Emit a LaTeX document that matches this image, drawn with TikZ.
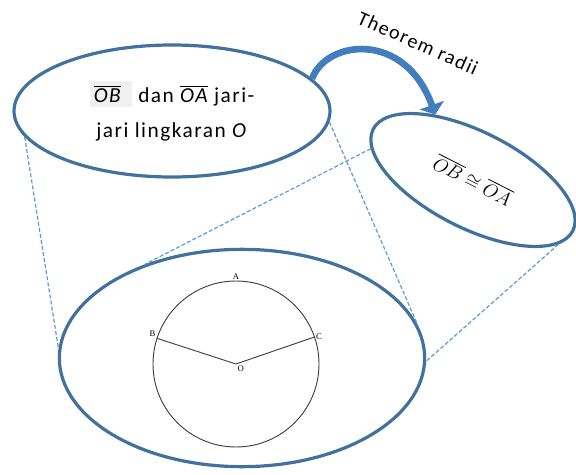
\documentclass[tikz,border=0pt]{standalone}
\usepackage{fontspec}
\setmainfont{Carlito}
\newfontfamily\bubblefont[LetterSpace=7]{Carlito}
\newfontfamily\figfont{Liberation Serif}
\usepackage{amssymb}
\usepackage{amsmath}
\usetikzlibrary{arrows.meta,shapes.geometric}
\definecolor{rimblue}{RGB}{65,113,156}
\definecolor{dashblue}{RGB}{91,155,213}
\definecolor{arrowblue}{RGB}{66,126,190}
\definecolor{boxgray}{RGB}{240,240,240}

\begin{document}
\begin{tikzpicture}[x=0.75pt,y=-0.75pt,
  bubble/.style={ellipse,draw=rimblue,line width=2.4pt,inner sep=0pt},
  guide/.style={draw=dashblue,line width=0.9pt,dash pattern=on 3pt off 1.6pt},
  ptlabel/.style={font=\figfont\fontsize{6.5}{7}\selectfont,inner sep=1pt}]
\useasboundingbox (0,0) rectangle (576,475);
\node[bubble,minimum width=237pt,minimum height=99pt,align=center,
  font=\bubblefont\fontsize{16}{26}\selectfont] (claim) at (172,111)
  {\colorbox{boxgray}{$\overline{\textit{OB}}$\,\,} dan $\overline{\textit{OA}}$ jari-\\jari lingkaran \textit{O}};
\node[bubble,rotate=-27,minimum width=168pt,minimum height=72pt,
  font=\fontsize{15.5}{18}\selectfont] (result) at (473,180) {$\overline{OB}\cong\overline{OA}$};
\node[bubble,minimum width=274pt,minimum height=163pt] (figure) at (242,358) {};
\node[font=\bubblefont\fontsize{15}{18}\selectfont,rotate=-24] (rule) at (418,43) {Theorem radii};

\draw[guide] (claim.190) -- (figure.177);
\draw[guide] (claim.-4) -- (figure.11);
\draw[guide] (result.190) -- (figure.136);
\draw[guide] (result.-10) -- (figure.-1);

\draw[arrowblue,line width=5pt,-{Triangle[length=7.5pt,width=19pt]}]
  (claim.13) .. controls (326,40) and (405,30) .. (result.147);

\node[circle,draw=black!75,line width=0.7pt,minimum size=124.5pt,inner sep=0pt,outer sep=0pt] (rim) at (236,364) {};
\coordinate (O) at (rim.center);
\draw[black!75,line width=0.7pt] (rim.162) -- (O) -- (rim.19);
\node[ptlabel,anchor=south] (lblA) at (rim.north) {A};
\node[ptlabel,anchor=south east] (lblB) at (rim.162) {B};
\node[ptlabel,anchor=west] (lblC) at (rim.19) {C};
\node[ptlabel,anchor=north west] (lblO) at (O) {O};
\end{tikzpicture}
\end{document}
